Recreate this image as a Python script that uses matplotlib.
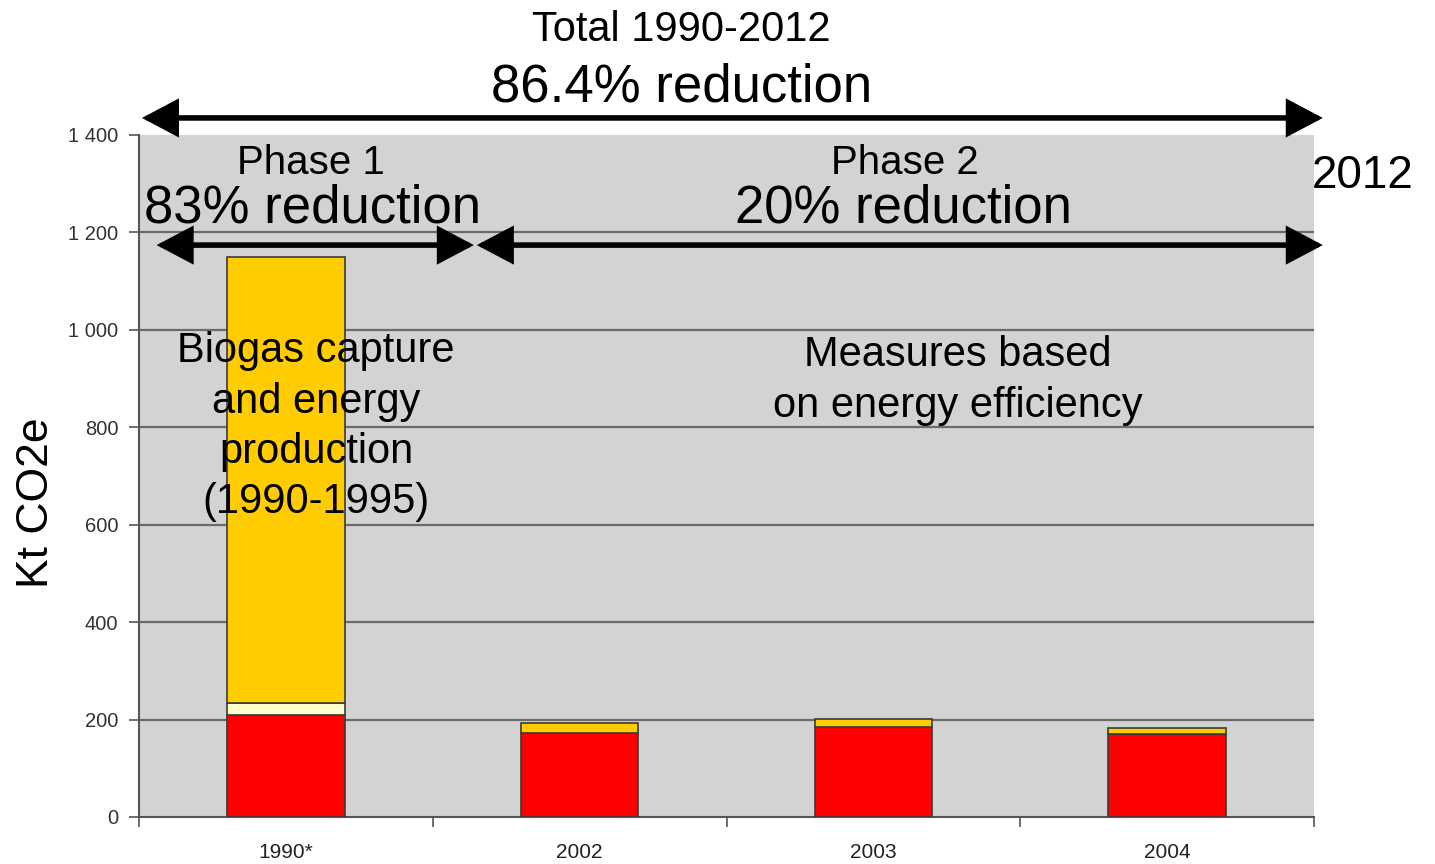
import matplotlib
matplotlib.use("Agg")
import matplotlib.pyplot as plt
import numpy as np

plt.rcParams['font.family'] = ['Liberation Sans', 'DejaVu Sans']

# values (kt CO2e)
categories = ["1990*", "2002", "2003", "2004"]
red_part = [209, 173, 185, 171]
cream_part = [25, 0, 0, 0]
yellow_part = [916, 19, 16, 12]

ytick_values = [0, 200, 400, 600, 800, 1000, 1200, 1400]
ytick_labels = ["0", "200", "400", "600", "800", "1 000", "1 200", "1 400"]

fig = plt.figure(figsize=(14.35, 8.64), dpi=100)
ax = fig.add_axes([139 / 1435, 47 / 864, 1175 / 1435, 682 / 864])
ax.set_facecolor('#d3d3d3')

x = np.arange(len(categories))
w = 0.40
edge = dict(edgecolor='#3a3a3a', linewidth=1.2, zorder=3)
ax.bar(x, red_part, w, color='#ff0000', **edge)
bottom2 = np.array(red_part)
ax.bar(x, cream_part, w, bottom=bottom2, color='#ffffcc', **edge)
bottom3 = bottom2 + np.array(cream_part)
ax.bar(x, yellow_part, w, bottom=bottom3, color='#ffcc00', **edge)

ax.set_xlim(-0.5, len(categories) - 0.5)
ax.set_ylim(0, 1400)

# grid
for v in ytick_values[1:-1]:
    ax.axhline(v, color='#6a6a6a', lw=1.6, zorder=1)

for s in ['top', 'right']:
    ax.spines[s].set_visible(False)
for s in ['left', 'bottom']:
    ax.spines[s].set_color('#555555')
    ax.spines[s].set_linewidth(1.5)

ax.set_yticks(ytick_values)
ax.set_yticklabels(ytick_labels)
ax.tick_params(axis='y', length=7, pad=8, labelsize=14.5, labelcolor='#333333',
               color='#555555', width=1.2)
ax.set_xticks(x)
ax.set_xticklabels(categories)
ax.tick_params(axis='x', which='major', length=0, pad=19, labelsize=15,
               labelcolor='#222222')
ax.set_xticks(np.arange(-0.5, len(categories), 1.0), minor=True)
ax.tick_params(axis='x', which='minor', length=7, color='#555555', width=1.2)

# arrows
arrow = dict(arrowstyle='<|-|>,head_length=0.85,head_width=0.45',
             mutation_scale=24, color='black', lw=4, shrinkA=0, shrinkB=0,
             joinstyle='miter')
ax.annotate('', xy=(3.53, 1435), xytext=(-0.49, 1435),
            arrowprops=arrow, annotation_clip=False, zorder=6)
ax.annotate('', xy=(0.64, 1174), xytext=(-0.44, 1174),
            arrowprops=arrow, annotation_clip=False, zorder=6)
ax.annotate('', xy=(3.53, 1174), xytext=(0.65, 1174),
            arrowprops=arrow, annotation_clip=False, zorder=6)

# texts
fig.text(0.475, 1 - 30 / 864, "Total 1990-2012", ha='center', va='center', fontsize=30)
fig.text(0.475, 1 - 88 / 864, "86.4% reduction", ha='center', va='center', fontsize=38)
fig.text(1363 / 1435, 1 - 176 / 864, "2012", ha='center', va='center', fontsize=33)
fig.text(36 / 1435, 1 - 503 / 864, "Kt CO2e", ha='center', va='center',
         rotation=90, fontsize=32)

ax.text(0.0855, 1343, "Phase 1", ha='center', va='center', fontsize=29, zorder=7)
ax.text(0.09, 1249, "83% reduction", ha='center', va='center', fontsize=38, zorder=7)
ax.text(2.108, 1343, "Phase 2", ha='center', va='center', fontsize=29, zorder=7)
ax.text(2.104, 1249, "20% reduction", ha='center', va='center', fontsize=38, zorder=7)

ax.text(0.1026, 801, "Biogas capture\nand energy\nproduction\n(1990-1995)",
        ha='center', va='center', fontsize=30, linespacing=1.33, zorder=7)
ax.text(2.288, 896, "Measures based\non energy efficiency",
        ha='center', va='center', fontsize=30, linespacing=1.33, zorder=7)

fig.savefig("out.png", dpi=100)
